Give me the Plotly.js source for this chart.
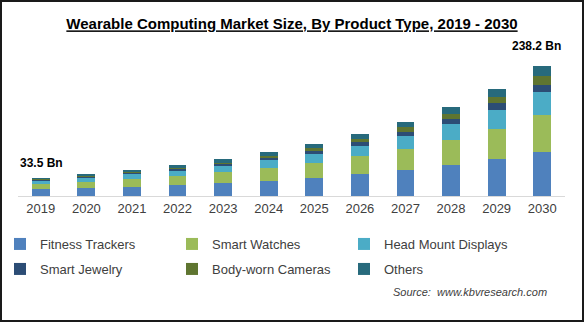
<!DOCTYPE html>
<html>
<head>
<meta charset="utf-8">
<script src="https://cdn.plot.ly/plotly-3.0.1.min.js"></script>
<style>
  html, body { margin: 0; padding: 0; background: #fff; }
  #wrap { position: relative; width: 584px; height: 322px; }
  #chart { width: 584px; height: 322px; }
  #frame { position: absolute; left: 0; top: 0; width: 584px; height: 322px; box-sizing: border-box; border: 2px solid #1a1a1a; pointer-events: none; }
</style>
</head>
<body>
<div id="wrap"><div id="chart"></div><div id="frame"></div></div>
<script>
const years = ['2019','2020','2021','2022','2023','2024','2025','2026','2027','2028','2029','2030'];
const fitnessTrackers   = [13.0, 14.7, 16.5, 20.2, 23.8, 27.5, 33.0, 40.3, 47.7, 56.8, 67.3, 80.8];
const smartWatches      = [ 9.3, 11.0, 14.7, 16.5, 20.2, 23.8, 27.5, 33.0, 38.5, 45.8, 56.3, 67.4];
const headMountDisplays = [ 5.0,  7.3,  8.6,  9.8, 11.0, 14.7, 17.1, 18.3, 23.8, 29.3, 33.7, 42.9];
const smartJewelry      = [ 1.8,  1.5,  1.5,  2.4,  3.7,  3.7,  5.5,  7.3,  7.9,  9.2, 12.2, 12.2];
const bodyWornCameras   = [ 1.6,  1.5,  2.1,  2.4,  2.4,  3.7,  4.9,  6.1,  9.2,  9.2, 12.2, 16.5];
const others            = [ 2.8,  4.3,  4.3,  5.5,  6.7,  7.3,  7.3,  8.6,  8.6, 12.8, 14.1, 18.4];
const labeledYears  = ['2019', '2030'];
const labeledTotals = ['33.5 Bn', '238.2 Bn'];

const seriesNames  = ['Fitness Trackers','Smart Watches','Head Mount Displays','Smart Jewelry','Body-worn Cameras','Others'];
const seriesValues = [fitnessTrackers, smartWatches, headMountDisplays, smartJewelry, bodyWornCameras, others];
const seriesColors = ['#4F81BD','#9BBB59','#4BACC6','#2C4D75','#5F7530','#276A7C'];

const traces = seriesNames.map((name, i) => ({
  type: 'bar',
  name: name,
  x: years,
  y: seriesValues[i],
  marker: { color: seriesColors[i], line: { width: 0 } },
  legend: i < 3 ? 'legend' : 'legend2',
  hoverinfo: 'skip'
}));

const totals = years.map((_, j) => seriesValues.reduce((s, arr) => s + arr[j], 0));

const labelShifts = [{ x: 1, y: 6 }, { x: -6, y: 11 }];
const annotations = labeledYears.map((yr, k) => {
  const j = years.indexOf(yr);
  return {
    x: j, y: totals[j], xref: 'x', yref: 'y',
    text: '<b>' + labeledTotals[k] + '</b>',
    showarrow: false, yanchor: 'bottom', yshift: labelShifts[k].y, xshift: labelShifts[k].x,
    font: { family: 'Liberation Sans, Arial, sans-serif', size: 12, color: '#000' }
  };
});
annotations.push({
  xref: 'paper', yref: 'paper', x: 0.97, y: -0.66, xanchor: 'right', yanchor: 'middle',
  text: '<i>Source:  www.kbvresearch.com</i>', showarrow: false,
  font: { family: 'Liberation Sans, Arial, sans-serif', size: 11, color: '#404040' }
});

const legendCommon = {
  orientation: 'h', xref: 'container', yref: 'container', xanchor: 'left', yanchor: 'middle',
  entrywidth: 127, entrywidthmode: 'pixels', bgcolor: 'rgba(0,0,0,0)', traceorder: 'normal',
  font: { family: 'Liberation Sans, Arial, sans-serif', size: 13, color: '#404040' },
  itemclick: false, itemdoubleclick: false
};

const layout = {
  width: 584, height: 322,
  margin: { l: 18, r: 19, t: 50, b: 126 },
  paper_bgcolor: '#fff', plot_bgcolor: '#fff',
  barmode: 'stack', bargap: 0.61,
  showlegend: true,
  title: {
    text: '<u><b>Wearable Computing Market Size, By Product Type, 2019 - 2030</b></u>',
    x: 0.5, xanchor: 'center', y: 0.925, yanchor: 'middle',
    font: { family: 'Liberation Sans, Arial, sans-serif', size: 15, color: '#000' }
  },
  xaxis: {
    type: 'category', range: [-0.5, years.length - 0.5],
    showline: true, linecolor: '#D9D9D9', linewidth: 1,
    showgrid: false, zeroline: false, ticks: '',
    tickfont: { family: 'Liberation Sans, Arial, sans-serif', size: 13, color: '#404040' },
    fixedrange: true
  },
  yaxis: {
    range: [0, 267.5], visible: false, showgrid: false, zeroline: false, fixedrange: true
  },
  legend: Object.assign({}, legendCommon, { x: 0.0, y: 1 - 244/322 }),
  legend2: Object.assign({}, legendCommon, { x: 0.0, y: 1 - 269/322 }),
  annotations: annotations
};

Plotly.newPlot('chart', traces, layout, { displayModeBar: false, staticPlot: true });
</script>
</body>
</html>
